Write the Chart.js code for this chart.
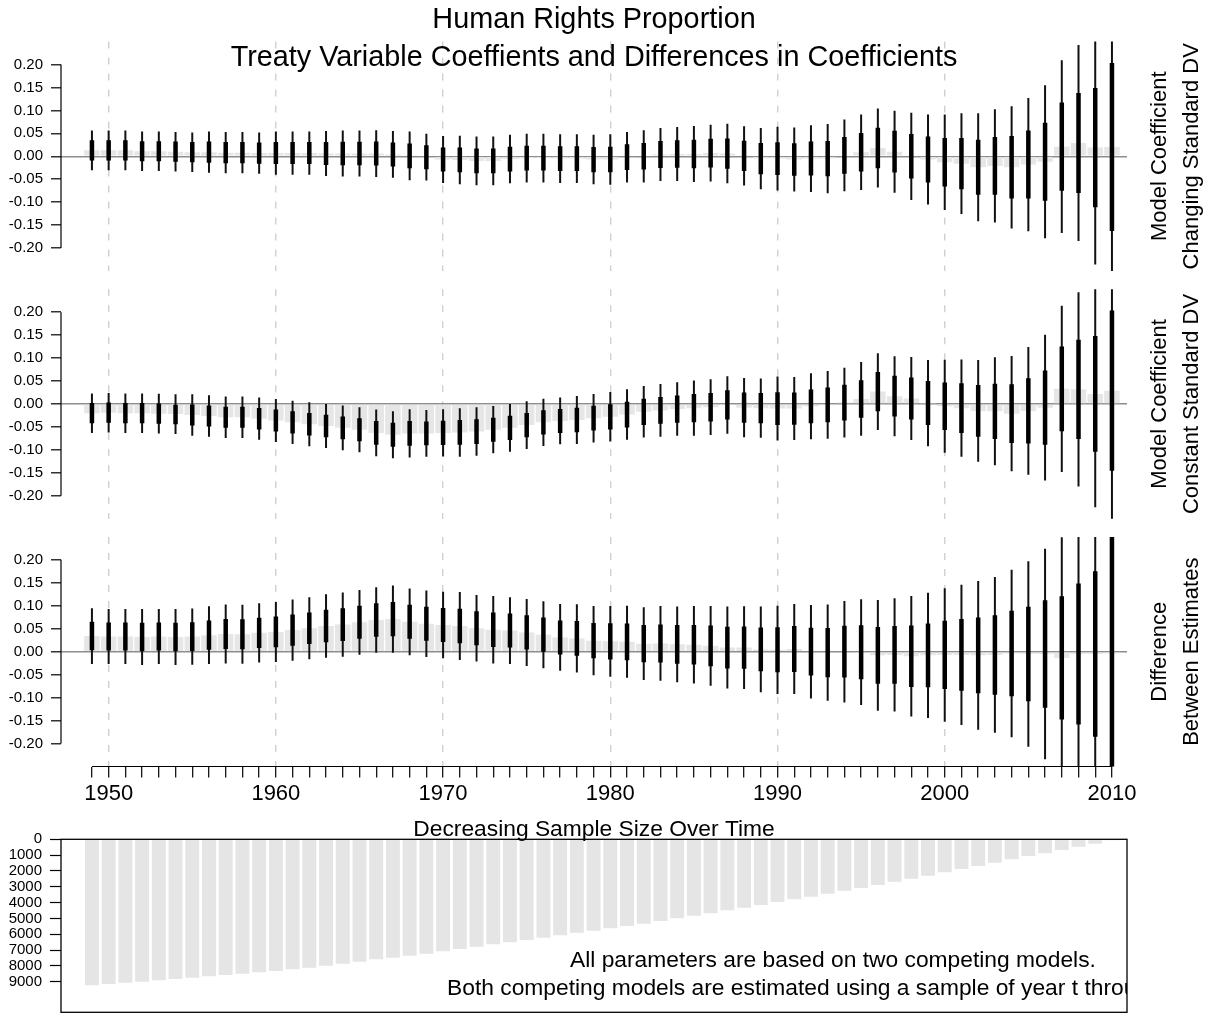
<!DOCTYPE html>
<html lang="en">
<head>
<meta charset="utf-8">
<title>Human Rights Proportion</title>
<script src="https://cdn.jsdelivr.net/npm/chart.js@4.4.1/dist/chart.umd.min.js"></script>
<style>
  html, body { margin: 0; padding: 0; background: #ffffff; }
  #figure { position: relative; width: 1207px; height: 1014px; overflow: hidden; background: #ffffff; }
  #figure canvas { position: absolute; left: 0; }
</style>
</head>
<body>
<div id="figure">
  <canvas id="panelChanging" width="1207" height="290" style="top:0px"></canvas>
  <canvas id="panelConstant" width="1207" height="250" style="top:280px"></canvas>
  <canvas id="panelDifference" width="1207" height="282" style="top:528px"></canvas>
  <canvas id="panelSample" width="1207" height="204" style="top:810px"></canvas>
</div>
<script>
// Final year of each rolling estimation window
const years = [
  1949, 1950, 1951, 1952, 1953, 1954, 1955, 1956, 1957, 1958,
  1959, 1960, 1961, 1962, 1963, 1964, 1965, 1966, 1967, 1968,
  1969, 1970, 1971, 1972, 1973, 1974, 1975, 1976, 1977, 1978,
  1979, 1980, 1981, 1982, 1983, 1984, 1985, 1986, 1987, 1988,
  1989, 1990, 1991, 1992, 1993, 1994, 1995, 1996, 1997, 1998,
  1999, 2000, 2001, 2002, 2003, 2004, 2005, 2006, 2007, 2008,
  2009, 2010
];

// Treaty coefficient, model with a changing standard DV
const changingEst = [
  0.013, 0.013, 0.013, 0.011, 0.011, 0.010, 0.009, 0.009, 0.008, 0.008,
  0.007, 0.007, 0.007, 0.007, 0.006, 0.006, 0.006, 0.006, 0.004, 0.001,
  -0.002, -0.007, -0.008, -0.010, -0.010, -0.006, -0.004, -0.004, -0.005, -0.005,
  -0.007, -0.007, -0.002, 0.000, 0.004, 0.005, 0.005, 0.007, 0.006, 0.001,
  -0.005, -0.005, -0.007, -0.005, -0.005, 0.002, 0.009, 0.018, 0.010, 0.000,
  -0.007, -0.013, -0.016, -0.024, -0.021, -0.024, -0.018, -0.012, 0.021, 0.029,
  0.019, 0.020
];
const changingSE = [
  0.022, 0.022, 0.022, 0.022, 0.022, 0.022, 0.022, 0.023, 0.023, 0.023,
  0.023, 0.024, 0.024, 0.024, 0.025, 0.0255, 0.0255, 0.026, 0.026, 0.027,
  0.026, 0.026, 0.027, 0.027, 0.027, 0.027, 0.027, 0.027, 0.027, 0.027,
  0.0275, 0.028, 0.028, 0.029, 0.0295, 0.030, 0.031, 0.0315, 0.033, 0.033,
  0.034, 0.0355, 0.0355, 0.037, 0.0385, 0.040, 0.042, 0.044, 0.0455, 0.0485,
  0.050, 0.053, 0.056, 0.060, 0.063, 0.068, 0.074, 0.085, 0.096, 0.109,
  0.130, 0.183
];

// Treaty coefficient, model with a constant standard DV
const constantEst = [
  -0.020, -0.019, -0.020, -0.020, -0.021, -0.022, -0.024, -0.026, -0.029, -0.029,
  -0.032, -0.036, -0.040, -0.044, -0.048, -0.052, -0.056, -0.063, -0.067, -0.064,
  -0.064, -0.063, -0.062, -0.060, -0.056, -0.052, -0.046, -0.040, -0.037, -0.035,
  -0.031, -0.028, -0.023, -0.017, -0.014, -0.011, -0.009, -0.007, -0.002, -0.008,
  -0.009, -0.010, -0.010, -0.005, -0.002, 0.003, 0.011, 0.027, 0.017, 0.012,
  0.002, -0.005, -0.009, -0.015, -0.016, -0.021, -0.015, -0.008, 0.033, 0.032,
  0.022, 0.029
];
const constantSE = [
  0.022, 0.022, 0.022, 0.022, 0.022, 0.022, 0.023, 0.023, 0.023, 0.023,
  0.0235, 0.024, 0.024, 0.0245, 0.0245, 0.025, 0.025, 0.026, 0.026, 0.0267,
  0.026, 0.0263, 0.0269, 0.0269, 0.0263, 0.0265, 0.0265, 0.0263, 0.026, 0.0267,
  0.027, 0.0275, 0.028, 0.0286, 0.0293, 0.0297, 0.0306, 0.031, 0.032, 0.033,
  0.033, 0.0356, 0.035, 0.0367, 0.0377, 0.0388, 0.041, 0.0427, 0.0445, 0.046,
  0.048, 0.0516, 0.054, 0.0566, 0.060, 0.064, 0.071, 0.081, 0.0925, 0.108,
  0.126, 0.1745
];

// Difference between the two estimates
const differenceEst = [
  0.034, 0.033, 0.033, 0.032, 0.033, 0.032, 0.033, 0.036, 0.0385, 0.038,
  0.041, 0.043, 0.047, 0.051, 0.056, 0.059, 0.064, 0.069, 0.071, 0.065,
  0.061, 0.058, 0.056, 0.051, 0.048, 0.046, 0.042, 0.037, 0.031, 0.029,
  0.024, 0.0225, 0.0215, 0.0175, 0.018, 0.016, 0.015, 0.0127, 0.009, 0.009,
  0.005, 0.004, 0.006, 0.000, -0.002, 0.000, -0.001, -0.008, -0.007, -0.010,
  -0.008, -0.007, -0.007, -0.008, -0.007, -0.004, -0.005, -0.005, -0.0135, -0.005,
  -0.005, -0.004
];
const differenceSE = [
  0.031, 0.0306, 0.0306, 0.031, 0.0305, 0.031, 0.0313, 0.032, 0.0327, 0.0327,
  0.033, 0.0334, 0.034, 0.0345, 0.0352, 0.0358, 0.036, 0.0364, 0.0373, 0.037,
  0.0369, 0.0369, 0.0377, 0.037, 0.0375, 0.037, 0.0372, 0.0373, 0.0371, 0.038,
  0.0384, 0.0393, 0.040, 0.0404, 0.0415, 0.042, 0.043, 0.0443, 0.0455, 0.046,
  0.0477, 0.049, 0.050, 0.052, 0.0534, 0.0564, 0.0588, 0.0616, 0.063, 0.067,
  0.0696, 0.0742, 0.078, 0.0826, 0.0865, 0.093, 0.103, 0.117, 0.134, 0.1536,
  0.180, 0.300
];

// Observations in the sample running from year t onward
const sampleSize = [
  9233, 9148, 9064, 9000, 8916, 8832, 8748, 8664, 8580, 8495,
  8411, 8326, 8221, 8116, 7989, 7863, 7736, 7589, 7483, 7357,
  7230, 7083, 6935, 6788, 6640, 6513, 6366, 6218, 6071, 5902,
  5776, 5628, 5481, 5333, 5164, 4996, 4827, 4680, 4490, 4321,
  4153, 3963, 3794, 3626, 3436, 3246, 3078, 2888, 2677, 2487,
  2298, 2087, 1876, 1686, 1476, 1265, 1054, 885, 675, 464,
  274, 60
];

const coefTicks = [-0.2, -0.15, -0.1, -0.05, 0, 0.05, 0.1, 0.15, 0.2];
const sampleTicks = [0, 1000, 2000, 3000, 4000, 5000, 6000, 7000, 8000, 9000];
const decadeLines = [1950, 1960, 1970, 1980, 1990, 2000];
const yearLabels = [1950, 1960, 1970, 1980, 1990, 2000, 2010];

const FONT = '"Liberation Sans", Arial, Helvetica, sans-serif';
const X_MIN = 1947.15;
const X_MAX = 2010.9;
const WIDE_Z = 1.96;   // thin line: 95% interval, thick line: one standard error

Chart.defaults.font.family = FONT;

function band(est, se, k) {
  return years.map((yr, i) => ({ x: yr, y: [est[i] - k * se[i], est[i] + k * se[i]] }));
}
function fromZero(est) {
  return years.map((yr, i) => ({ x: yr, y: [0, est[i]] }));
}

const barBase = {
  grouped: false, borderWidth: 0, inflateAmount: 0,
  barPercentage: 1, categoryPercentage: 1, clip: 0
};

// Base-graphics style decorations: short axis lines, frame, titles and margin text
const panelDecor = {
  id: 'panelDecor',
  afterDraw(chart, args, opts) {
    const { ctx, chartArea: a, scales } = chart;
    ctx.save();
    ctx.strokeStyle = '#000';
    ctx.lineWidth = 1.2;
    if (opts.yAxisLine) {
      const ys = scales.y;
      ctx.beginPath();
      ctx.moveTo(a.left, ys.getPixelForValue(opts.yAxisLine[0]));
      ctx.lineTo(a.left, ys.getPixelForValue(opts.yAxisLine[1]));
      ctx.stroke();
    }
    if (opts.xAxisLine) {
      const xs = scales.x;
      ctx.beginPath();
      ctx.moveTo(xs.getPixelForValue(opts.xAxisLine[0]), a.bottom);
      ctx.lineTo(xs.getPixelForValue(opts.xAxisLine[1]), a.bottom);
      ctx.stroke();
    }
    if (opts.frame) {
      ctx.lineWidth = 1.3;
      ctx.strokeRect(a.left, a.top, a.right - a.left, a.bottom - a.top);
    }
    ctx.fillStyle = '#000';
    (opts.texts || []).forEach(t => {
      ctx.save();
      if (t.clip) {
        ctx.beginPath();
        ctx.rect(a.left, a.top, a.right - a.left, a.bottom - a.top);
        ctx.clip();
      }
      ctx.font = t.size + 'px ' + FONT;
      ctx.textBaseline = 'alphabetic';
      const x = t.x === 'center' ? (a.left + a.right) / 2 : t.x;
      const y = t.y === 'middle' ? (a.top + a.bottom) / 2 : t.y;
      ctx.translate(x, y);
      if (t.rotate) ctx.rotate(-Math.PI / 2);
      ctx.textAlign = t.align || 'center';
      ctx.fillText(t.text, 0, 0);
      ctx.restore();
    });
    ctx.restore();
  }
};

function coefY() {
  return {
    min: -0.25, max: 0.25,
    afterBuildTicks: s => { s.ticks = coefTicks.map(v => ({ value: v })); },
    afterFit: s => { s.width = 61; s.paddingTop = 0; s.paddingBottom = 0; },
    ticks: {
      autoSkip: false, padding: 8, color: '#000',
      font: { family: FONT, size: 15 },
      callback: v => Number(v).toFixed(2)
    },
    grid: {
      drawOnChartArea: true, drawTicks: true, tickLength: 10, tickWidth: 1.2, tickColor: '#000',
      color: c => (c.tick && c.tick.value === 0 ? '#8e8e8e' : 'rgba(0,0,0,0)'),
      lineWidth: 1.6
    },
    border: { display: false }
  };
}

function decadeGridX() {
  return {
    type: 'linear', min: X_MIN, max: X_MAX, offset: false,
    afterBuildTicks: s => { s.ticks = decadeLines.map(v => ({ value: v })); },
    afterFit: s => { s.height = 0; s.paddingLeft = 0; s.paddingRight = 0; },
    ticks: { display: false },
    grid: { offset: false, drawTicks: false, color: '#d0d0d0', lineWidth: 1.4 },
    border: { display: false, dash: [7, 9] }
  };
}

function yearAxisX() {
  return {
    type: 'linear', min: X_MIN, max: X_MAX, offset: false,
    afterBuildTicks: s => { s.ticks = years.map(v => ({ value: v })); },
    afterFit: s => { s.height = 43.5; s.paddingLeft = 0; s.paddingRight = 0; },
    ticks: {
      autoSkip: false, maxRotation: 0, minRotation: 0, padding: 3, color: '#000',
      font: { family: FONT, size: 22 },
      callback: v => (yearLabels.includes(v) ? String(v) : '')
    },
    grid: {
      offset: false, drawTicks: true, tickLength: 11, tickWidth: 1.2, tickColor: '#000',
      color: c => (c.tick && decadeLines.includes(c.tick.value) ? '#d0d0d0' : 'rgba(0,0,0,0)'),
      lineWidth: 1.4
    },
    border: { display: false, dash: [7, 9] }
  };
}

function coefPanel(id, est, se, pad, xScale, decor) {
  return new Chart(document.getElementById(id), {
    type: 'bar',
    data: {
      datasets: [
        { ...barBase, label: 'Estimate +/- 1 SE', data: band(est, se, 1), backgroundColor: '#000', maxBarThickness: 4.5, order: 1 },
        { ...barBase, label: '95% interval', data: band(est, se, WIDE_Z), backgroundColor: '#111', maxBarThickness: 2, order: 2 },
        { ...barBase, label: 'Estimate', data: fromZero(est), backgroundColor: '#e6e6e6', maxBarThickness: 15.5, order: 3 }
      ]
    },
    options: {
      responsive: false, animation: false, devicePixelRatio: 1, events: [],
      layout: { padding: { top: pad[0], bottom: pad[1], left: 0, right: 80 } },
      scales: { x: xScale, y: coefY() },
      plugins: {
        legend: { display: false }, tooltip: { enabled: false },
        panelDecor: decor
      }
    },
    plugins: [panelDecor]
  });
}

function sideLabels(first, second) {
  return [
    { text: first, x: 1166, y: 'middle', size: 22, rotate: true },
    { text: second, x: 1198, y: 'middle', size: 22, rotate: true }
  ];
}

coefPanel('panelChanging', changingEst, changingSE, [41.55, 18.95], decadeGridX(), {
  yAxisLine: [0.2, -0.2],
  texts: [
    { text: 'Human Rights Proportion', x: 'center', y: 28, size: 28.8 },
    { text: 'Treaty Variable Coeffients and Differences in Coefficients', x: 'center', y: 65.5, size: 28.8 }
  ].concat(sideLabels('Model Coefficient', 'Changing Standard DV'))
});

coefPanel('panelConstant', constantEst, constantSE, [9.25, 11.25], decadeGridX(), {
  yAxisLine: [0.2, -0.2],
  texts: sideLabels('Model Coefficient', 'Constant Standard DV')
});

coefPanel('panelDifference', differenceEst, differenceSE, [8.9, 0], yearAxisX(), {
  yAxisLine: [0.2, -0.2],
  xAxisLine: [years[0], years[years.length - 1]],
  texts: sideLabels('Difference', 'Between Estimates')
});

new Chart(document.getElementById('panelSample'), {
  type: 'bar',
  data: {
    datasets: [{
      ...barBase, label: 'Sample size',
      data: years.map((yr, i) => ({ x: yr, y: sampleSize[i] })),
      backgroundColor: '#e5e5e5', maxBarThickness: 13.9
    }]
  },
  options: {
    responsive: false, animation: false, devicePixelRatio: 1, events: [],
    layout: { padding: { top: 29.3, bottom: 1.7, left: 0, right: 80 } },
    scales: {
      x: { type: 'linear', min: X_MIN, max: X_MAX, offset: false, display: false, grid: { offset: false } },
      y: {
        reverse: true, min: 0, max: 10935,
        afterBuildTicks: s => { s.ticks = sampleTicks.map(v => ({ value: v })); },
        afterFit: s => { s.width = 61; s.paddingTop = 0; s.paddingBottom = 0; },
        ticks: { autoSkip: false, padding: 8, color: '#000', font: { family: FONT, size: 15 }, callback: v => String(v) },
        grid: { drawOnChartArea: false, drawTicks: true, tickLength: 11, tickWidth: 1.2, tickColor: '#000' },
        border: { display: false }
      }
    },
    plugins: {
      legend: { display: false }, tooltip: { enabled: false },
      panelDecor: {
        frame: true,
        texts: [
          { text: 'Decreasing Sample Size Over Time', x: 'center', y: 26, size: 22.8 },
          { text: 'All parameters are based on two competing models.', x: 570, y: 157, size: 22.8, align: 'left', clip: true },
          { text: 'Both competing models are estimated using a sample of year t through', x: 447, y: 185, size: 22.8, align: 'left', clip: true }
        ]
      }
    }
  },
  plugins: [panelDecor]
});
</script>
</body>
</html>
